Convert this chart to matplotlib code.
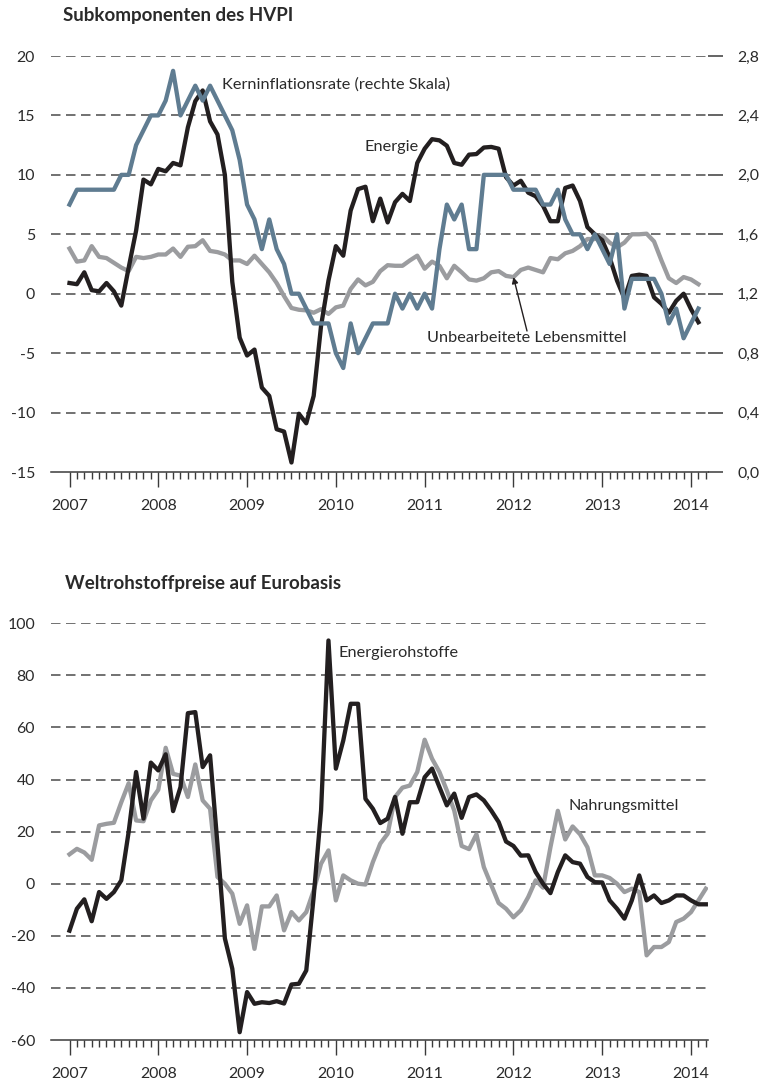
import matplotlib
matplotlib.use('Agg')
import matplotlib.pyplot as plt

plt.rcParams['font.family'] = ['Lato', 'DejaVu Sans']
plt.rcParams['lines.scale_dashes'] = False

# ---------------- data (monthly, starting January 2007) ----------------
years = ['2007', '2008', '2009', '2010', '2011', '2012', '2013', '2014']

# Top panel: Subkomponenten des HVPI (left scale, %)
energie = [0.9, 0.8, 1.8, 0.3, 0.2, 0.9, 0.2, -1.0, 2.2, 5.3, 9.6, 9.2,
           10.5, 10.3, 11.0, 10.8, 14.0, 16.2, 17.1, 14.5, 13.4, 10.0, 1.0, -3.7,
           -5.2, -4.7, -7.9, -8.6, -11.4, -11.6, -14.2, -10.1, -10.9, -8.6, -2.7, 1.1,
           4.0, 3.2, 7.0, 8.8, 9.0, 6.1, 8.0, 6.0, 7.7, 8.4, 7.8, 11.0,
           12.2, 13.0, 12.9, 12.45, 11.0, 10.85, 11.7, 11.75, 12.3, 12.35, 12.2, 9.8,
           9.1, 9.5, 8.5, 8.2, 7.4, 6.1, 6.1, 8.9, 9.1, 7.8, 5.6, 5.0,
           4.5, 3.05, 1.1, -0.4, 1.5, 1.6, 1.5, -0.3, -0.85, -1.6, -0.6, 0.0,
           -1.3, -2.4]

# Kerninflationsrate (right scale)
kern = [1.8, 1.9, 1.9, 1.9, 1.9, 1.9, 1.9, 2.0, 2.0, 2.2, 2.3, 2.4,
        2.4, 2.5, 2.7, 2.4, 2.5, 2.6, 2.5, 2.6, 2.5, 2.4, 2.3, 2.1,
        1.8, 1.7, 1.5, 1.7, 1.5, 1.4, 1.2, 1.2, 1.1, 1.0, 1.0, 1.0,
        0.8, 0.7, 1.0, 0.8, 0.9, 1.0, 1.0, 1.0, 1.2, 1.1, 1.2, 1.1,
        1.2, 1.1, 1.5, 1.8, 1.7, 1.8, 1.5, 1.5, 2.0, 2.0, 2.0, 2.0,
        1.9, 1.9, 1.9, 1.9, 1.8, 1.8, 1.9, 1.7, 1.6, 1.6, 1.5, 1.6,
        1.5, 1.4, 1.6, 1.1, 1.3, 1.3, 1.3, 1.3, 1.2, 1.0, 1.1, 0.9,
        1.0, 1.1]

# Unbearbeitete Lebensmittel (left scale)
unbearbeitet = [3.8, 2.7, 2.8, 4.0, 3.1, 3.0, 2.6, 2.2, 1.9, 3.1, 3.0, 3.1,
                3.3, 3.3, 3.8, 3.1, 3.95, 4.0, 4.5, 3.6, 3.5, 3.3, 2.8, 2.8,
                2.5, 3.2, 2.5, 1.8, 0.9, -0.2, -1.2, -1.35, -1.4, -1.6, -1.3, -1.7,
                -1.15, -1.0, 0.4, 1.2, 0.7, 1.0, 1.9, 2.4, 2.35, 2.35, 2.8, 3.2,
                2.1, 2.7, 2.35, 1.3, 2.35, 1.8, 1.2, 1.1, 1.3, 1.8, 1.9, 1.5,
                1.4, 2.0, 2.2, 2.0, 1.8, 3.0, 2.9, 3.4, 3.6, 4.0, 4.6, 4.6,
                4.9, 4.3, 3.9, 4.3, 5.0, 5.0, 5.05, 4.4, 2.8, 1.3, 0.9, 1.4,
                1.2, 0.8]

# Bottom panel: Weltrohstoffpreise auf Eurobasis
energierohstoffe = [-18.0, -9.6, -6.0, -14.4, -3.2, -5.8, -3.2, 1.3, 20.0, 42.9, 25.0, 46.5,
                    43.5, 49.7, 27.9, 37.1, 65.5, 65.9, 44.8, 49.3, 15.0, -21.0, -32.6, -57.0,
                    -41.6, -46.1, -45.5, -45.8, -45.1, -46.0, -38.7, -38.4, -33.3, -5.0, 28.1, 93.4,
                    44.2, 55.0, 69.1, 69.1, 32.6, 28.8, 23.3, 25.0, 33.3, 19.2, 31.3, 31.3,
                    40.9, 44.2, 37.1, 30.1, 34.6, 25.3, 33.3, 34.3, 32.0, 28.1, 23.7, 16.2,
                    14.5, 10.8, 10.9, 4.5, 0.0, -3.6, 4.5, 10.9, 8.3, 7.7, 2.6, 0.6,
                    0.5, -6.4, -9.6, -13.4, -6.4, 3.2, -6.4, -4.5, -7.4, -6.4, -4.5, -4.5,
                    -6.4, -7.9, -7.9]

nahrungsmittel = [11.3, 13.4, 12.0, 9.2, 22.4, 23.0, 23.4, 31.3, 38.6, 24.3, 24.0, 32.0,
                  36.1, 52.2, 42.2, 41.5, 33.3, 45.8, 32.0, 28.8, 2.6, 0.0, -3.8, -15.4,
                  -8.3, -25.0, -8.7, -8.7, -4.5, -17.9, -10.9, -14.1, -10.9, -2.6, 7.7, 12.8,
                  -6.4, 3.2, 1.3, 0.0, -0.3, 8.3, 15.4, 19.2, 33.3, 36.9, 37.7, 42.9,
                  55.3, 48.0, 42.9, 35.8, 28.1, 14.5, 13.3, 19.0, 6.4, -0.5, -7.4, -9.6,
                  -12.9, -10.2, -5.1, 1.3, -1.5, 14.0, 28.0, 17.0, 22.0, 19.0, 14.0, 3.2,
                  3.2, 2.2, 0.0, -3.2, -1.9, -3.2, -27.5, -24.3, -24.3, -22.4, -14.7, -13.4,
                  -10.9, -6.4, -1.9]

top_left_ticks = [-15, -10, -5, 0, 5, 10, 15, 20]
top_right_ticks = [0.0, 0.4, 0.8, 1.2, 1.6, 2.0, 2.4, 2.8]
top_right_labels = ['0,0', '0,4', '0,8', '1,2', '1,6', '2,0', '2,4', '2,8']
bottom_ticks = [-60, -40, -20, 0, 20, 40, 60, 80, 100]

# ---------------- style ----------------
W, H, DPI = 763, 1086, 100
BLACK = '#231f20'
BLUE = '#5f7c91'
GREY = '#9b9c9f'
GRID = '#4a4a4a'
AXC = '#3a3a3a'
TXT = '#2a2a2a'
FS = 11.4
FS_ANN = 11.7
LW = 3.1


def pt(px):
    return px * 72.0 / DPI


def rect(l, t, r, b):
    return [l / W, 1 - b / H, (r - l) / W, (b - t) / H]


X0, MSTEP = 69.5, 7.399   # pixel of Jan 2007 and pixels per month
AX_L, AX_R = 51, 708
XLIM = ((AX_L - X0) / MSTEP, (AX_R - X0) / MSTEP)

fig = plt.figure(figsize=(W / DPI, H / DPI), dpi=DPI)


def style(ax, yticks, ylabels, n_months):
    ax.set_xlim(*XLIM)
    ax.set_ylim(yticks[0], yticks[-1])
    for s in ['top', 'left', 'right']:
        ax.spines[s].set_visible(False)
    ax.spines['bottom'].set_color(AXC)
    ax.spines['bottom'].set_linewidth(1.1)
    ax.set_yticks(yticks)
    ax.set_yticklabels(ylabels)
    ax.tick_params(axis='y', length=0, pad=pt(16), labelsize=FS, labelcolor=TXT)
    for v in yticks[1:]:
        ax.axhline(v, color=GRID, lw=1.1, linestyle=(0, (pt(9.5), pt(5.5))), zorder=0)
    majors = list(range(0, 12 * len(years), 12))
    ax.set_xticks(majors)
    ax.set_xticklabels(years)
    ax.set_xticks([m for m in range(n_months) if m % 12], minor=True)
    ax.tick_params(axis='x', which='major', length=pt(15), width=1.0, color=AXC,
                   direction='out', pad=pt(12), labelsize=FS, labelcolor=TXT)
    ax.tick_params(axis='x', which='minor', length=pt(7), width=1.0, color=AXC,
                   direction='out')


# ---------------- top panel ----------------
ax1 = fig.add_axes(rect(AX_L, 56, AX_R, 472))
ax1.patch.set_visible(False)
style(ax1, top_left_ticks, [str(v) for v in top_left_ticks], 87)
m_top = list(range(len(energie)))
ax1.plot(m_top, unbearbeitet, color=GREY, lw=LW, zorder=2)
ax1.plot(m_top, energie, color=BLACK, lw=LW, zorder=3)

ax2 = ax1.twinx()
ax2.set_ylim(top_right_ticks[0], top_right_ticks[-1])
for s in ['top', 'left', 'right', 'bottom']:
    ax2.spines[s].set_visible(False)
ax2.set_yticks(top_right_ticks)
ax2.set_yticklabels(top_right_labels)
ax2.tick_params(axis='y', length=pt(15), width=1.1, color=AXC, pad=pt(14),
                labelsize=FS, labelcolor=TXT)
ax2.plot(list(range(len(kern))), kern, color=BLUE, lw=LW, zorder=4)

fig.text(63 / W, 1 - 16 / H, 'Subkomponenten des HVPI', fontsize=13.5, fontweight='bold',
         color=TXT, va='center', ha='left')
fig.text(222 / W, 1 - 85 / H, 'Kerninflationsrate (rechte Skala)', fontsize=FS_ANN,
         color=TXT, va='center', ha='left')
fig.text(365 / W, 1 - 147 / H, 'Energie', fontsize=FS_ANN, color=TXT, va='center', ha='left')
fig.text(427 / W, 1 - 338 / H, 'Unbearbeitete Lebensmittel', fontsize=FS_ANN, color=TXT,
         va='center', ha='left')
ax1.annotate('', xy=(60, unbearbeitet[60]), xycoords='data',
             xytext=(527 / W, 1 - 331 / H), textcoords='figure fraction',
             arrowprops=dict(arrowstyle='-|>', color=BLACK, lw=1.0,
                             mutation_scale=9, shrinkA=0, shrinkB=0))

# ---------------- bottom panel ----------------
ax3 = fig.add_axes(rect(AX_L, 623.3, AX_R, 1040))
ax3.patch.set_visible(False)
style(ax3, bottom_ticks, [str(v) for v in bottom_ticks], 87)
m_bot = list(range(len(energierohstoffe)))
ax3.plot(list(range(len(nahrungsmittel))), nahrungsmittel, color=GREY, lw=LW, zorder=2)
ax3.plot(m_bot, energierohstoffe, color=BLACK, lw=LW, zorder=3)

fig.text(65 / W, 1 - 583 / H, 'Weltrohstoffpreise auf Eurobasis', fontsize=13.5,
         fontweight='bold', color=TXT, va='center', ha='left')
fig.text(338 / W, 1 - 653 / H, 'Energierohstoffe', fontsize=FS_ANN, color=TXT,
         va='center', ha='left')
fig.text(568 / W, 1 - 806 / H, 'Nahrungsmittel', fontsize=FS_ANN, color=TXT,
         va='center', ha='left')

fig.savefig('out.png', dpi=DPI)
